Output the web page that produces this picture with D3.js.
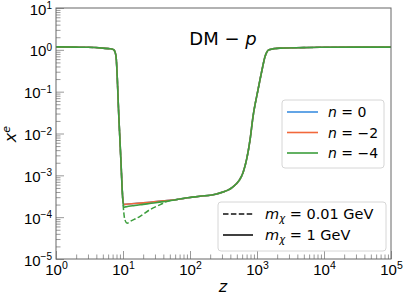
<!DOCTYPE html>
<html>
<head>
<meta charset="utf-8">
<script src="https://cdn.jsdelivr.net/npm/d3@7"></script>
<style>
  body { margin: 0; background: #fff; }
  svg { font-family: "DejaVu Sans", sans-serif; display: block; }
</style>
</head>
<body>
<div id="chart"></div>
<script>
// redshift samples and ionization fraction
const zVals = [1, 2, 3, 5, 6.4, 6.8, 7.3, 7.85, 8.7, 9.34, 9.9, 10.3, 11, 15, 20, 25, 40, 64, 100, 141, 250, 438, 618, 787, 871, 1035, 1188, 1316, 1511, 2205, 5000, 8710, 30000, 100000];
const xeN0 = [1.18, 1.16, 1.15, 1.1, 1.06, 1.05, 1.0, 0.72, 0.022, 2.0e-3, 2.9e-4, 2.0e-4, 2.04e-4, 2.12e-4, 2.2e-4, 2.28e-4, 2.45e-4, 2.65e-4, 2.95e-4, 3.15e-4, 3.6e-4, 5.3e-4, 1.15e-3, 7e-3, 0.025, 0.11, 0.33, 0.68, 1.0, 1.1, 1.13, 1.15, 1.16, 1.16];
const xeN2 = [1.18, 1.16, 1.15, 1.1, 1.06, 1.05, 1.0, 0.72, 0.022, 2.0e-3, 2.9e-4, 2.0e-4, 2.04e-4, 2.12e-4, 2.2e-4, 2.28e-4, 2.45e-4, 2.65e-4, 2.95e-4, 3.15e-4, 3.6e-4, 5.3e-4, 1.15e-3, 7e-3, 0.025, 0.11, 0.33, 0.68, 1.0, 1.1, 1.13, 1.15, 1.16, 1.16];
const xeN4 = [1.18, 1.16, 1.15, 1.1, 1.06, 1.05, 1.0, 0.72, 0.022, 2.0e-3, 2.8e-4, 1.72e-4, 1.76e-4, 1.9e-4, 2.02e-4, 2.12e-4, 2.35e-4, 2.65e-4, 2.95e-4, 3.15e-4, 3.6e-4, 5.3e-4, 1.15e-3, 7e-3, 0.025, 0.11, 0.33, 0.68, 1.0, 1.1, 1.13, 1.15, 1.16, 1.16];

// m_chi = 0.01 GeV, n = -4 (dashed)
const zLight = [1, 2, 3, 5, 6.4, 6.8, 7.3, 7.85, 8.7, 9.34, 9.9, 10.7, 11.5, 13, 18, 25, 36, 45, 64, 100, 141, 250, 438, 618, 787, 871, 1035, 1188, 1316, 1511, 2205, 5000, 8710, 30000, 100000];
const xeLight = [1.18, 1.16, 1.15, 1.1, 1.06, 1.05, 1.0, 0.72, 0.022, 2.0e-3, 2.8e-4, 8.5e-5, 7.2e-5, 8e-5, 1.05e-4, 1.5e-4, 2.0e-4, 2.35e-4, 2.65e-4, 2.95e-4, 3.15e-4, 3.6e-4, 5.3e-4, 1.15e-3, 7e-3, 0.025, 0.11, 0.33, 0.68, 1.0, 1.1, 1.13, 1.15, 1.16, 1.16];

const seriesLabels = ["0", "−2", "−4"];
const seriesColors = ["#3d8fe0", "#f2683b", "#3d9e3d"];
const xTickExp = [0, 1, 2, 3, 4, 5];
const yTickExp = [1, 0, -1, -2, -3, -4, -5];

const width = 407, height = 299;
const margin = {top: 8, right: 16, bottom: 40, left: 56};

const svg = d3.select("#chart").append("svg")
  .attr("width", width)
  .attr("height", height);

const x = d3.scaleLog().domain([1, 1e5]).range([margin.left, width - margin.right]);
const y = d3.scaleLog().domain([1e-5, 10]).range([height - margin.bottom, margin.top]);

function minorTicks(lo, hi) {
  const out = [];
  for (let e = lo; e < hi; e++) for (let k = 2; k <= 9; k++) out.push(k * Math.pow(10, e));
  return out;
}

// minor ticks
svg.append("g")
  .attr("transform", `translate(0,${height - margin.bottom})`)
  .call(d3.axisBottom(x).tickValues(minorTicks(0, 5)).tickSize(-4.5).tickFormat(""))
  .call(g => g.select(".domain").remove())
  .call(g => g.selectAll(".tick line").attr("stroke", "#999"));
svg.append("g")
  .attr("transform", `translate(${margin.left},0)`)
  .call(d3.axisLeft(y).tickValues(minorTicks(-5, 1)).tickSize(-4.5).tickFormat(""))
  .call(g => g.select(".domain").remove())
  .call(g => g.selectAll(".tick line").attr("stroke", "#999"));

// major ticks
const xAxis = svg.append("g")
  .attr("transform", `translate(0,${height - margin.bottom})`)
  .call(d3.axisBottom(x).tickValues(xTickExp.map(e => Math.pow(10, e))).tickSize(-8).tickFormat(""))
  .call(g => g.select(".domain").remove())
  .call(g => g.selectAll(".tick line").attr("stroke", "#999"));
xAxis.selectAll(".tick").append("text")
  .attr("fill", "#000").attr("font-size", 15).attr("text-anchor", "middle")
  .attr("y", 16)
  .each(function(d) {
    const t = d3.select(this);
    t.append("tspan").text("10");
    t.append("tspan").attr("font-size", 10.5).attr("dy", -6).text(Math.round(Math.log10(d)));
  });

const yAxis = svg.append("g")
  .attr("transform", `translate(${margin.left},0)`)
  .call(d3.axisLeft(y).tickValues(yTickExp.map(e => Math.pow(10, e))).tickSize(-8).tickFormat(""))
  .call(g => g.select(".domain").remove())
  .call(g => g.selectAll(".tick line").attr("stroke", "#999"));
yAxis.selectAll(".tick").append("text")
  .attr("fill", "#000").attr("font-size", 15).attr("text-anchor", "end")
  .attr("x", -4).attr("y", 6)
  .each(function(d) {
    const t = d3.select(this);
    const e = Math.round(Math.log10(d));
    t.append("tspan").text("10");
    t.append("tspan").attr("font-size", 10).attr("dy", -5.5).text(e < 0 ? "−" + (-e) : e);
  });

// lines
const line = d3.line()
  .x(d => x(d[0]))
  .y(d => y(d[1]))
  .curve(d3.curveMonotoneX);

const plot = svg.append("g");
plot.append("path")
  .datum(d3.zip(zLight, xeLight))
  .attr("fill", "none")
  .attr("stroke", seriesColors[2])
  .attr("stroke-width", 1.5)
  .attr("stroke-dasharray", "5.5,2.4")
  .attr("d", line);

[xeN0, xeN2, xeN4].forEach((vals, i) => {
  plot.append("path")
    .datum(d3.zip(zVals, vals))
    .attr("fill", "none")
    .attr("stroke", seriesColors[i])
    .attr("stroke-width", 1.6)
    .attr("stroke-linejoin", "round")
    .attr("d", line);
});

// frame
svg.append("rect")
  .attr("x", margin.left).attr("y", margin.top)
  .attr("width", width - margin.left - margin.right)
  .attr("height", height - margin.top - margin.bottom)
  .attr("fill", "none").attr("stroke", "#666").attr("stroke-width", 1);

// title
const title = svg.append("text")
  .attr("x", 223).attr("y", 45)
  .attr("text-anchor", "middle").attr("font-size", 18).attr("fill", "#000");
title.append("tspan").text("DM − ");
title.append("tspan").attr("font-style", "italic").text("p");

// axis labels
svg.append("text")
  .attr("x", 223).attr("y", 292)
  .attr("text-anchor", "middle").attr("font-size", 16).attr("font-style", "italic")
  .text("z");
const yl = svg.append("text")
  .attr("transform", "translate(16,134) rotate(-90)")
  .attr("text-anchor", "middle").attr("font-size", 16);
yl.append("tspan").attr("font-style", "italic").text("x");
yl.append("tspan").attr("font-style", "italic").attr("font-size", 11).attr("dy", -6).text("e");

// legend: n
const leg1 = svg.append("g").attr("transform", "translate(282,100)");
leg1.append("rect")
  .attr("width", 102).attr("height", 68).attr("rx", 3)
  .attr("fill", "#fff").attr("fill-opacity", 0.8)
  .attr("stroke", "#d6d6d6");
seriesLabels.forEach((lab, i) => {
  const yy = 12 + i * 20.5;
  leg1.append("line")
    .attr("x1", 5).attr("x2", 36).attr("y1", yy).attr("y2", yy)
    .attr("stroke", seriesColors[i]).attr("stroke-width", 1.6);
  const t = leg1.append("text")
    .attr("x", 46).attr("y", yy + 5).attr("font-size", 14).attr("fill", "#000");
  t.append("tspan").attr("font-style", "italic").text("n");
  t.append("tspan").text(" = " + lab);
});

// legend: m_chi
const massLabels = ["0.01 GeV", "1 GeV"];
const leg2 = svg.append("g").attr("transform", "translate(218,202)");
leg2.append("rect")
  .attr("width", 168).attr("height", 49).attr("rx", 3)
  .attr("fill", "#fff").attr("fill-opacity", 0.8)
  .attr("stroke", "#d6d6d6");
massLabels.forEach((lab, i) => {
  const yy = 12 + i * 21;
  leg2.append("line")
    .attr("x1", 5).attr("x2", 35).attr("y1", yy).attr("y2", yy)
    .attr("stroke", "#111").attr("stroke-width", 1.6)
    .attr("stroke-dasharray", i === 0 ? "5.5,2.4" : null);
  const t = leg2.append("text")
    .attr("x", 47).attr("y", yy + 5).attr("font-size", 14.5).attr("fill", "#000");
  t.append("tspan").attr("font-style", "italic").text("m");
  t.append("tspan").attr("font-style", "italic").attr("font-size", 10).attr("dy", 3).text("χ");
  t.append("tspan").attr("dy", -3).text(" =  " + lab);
});
</script>
</body>
</html>
